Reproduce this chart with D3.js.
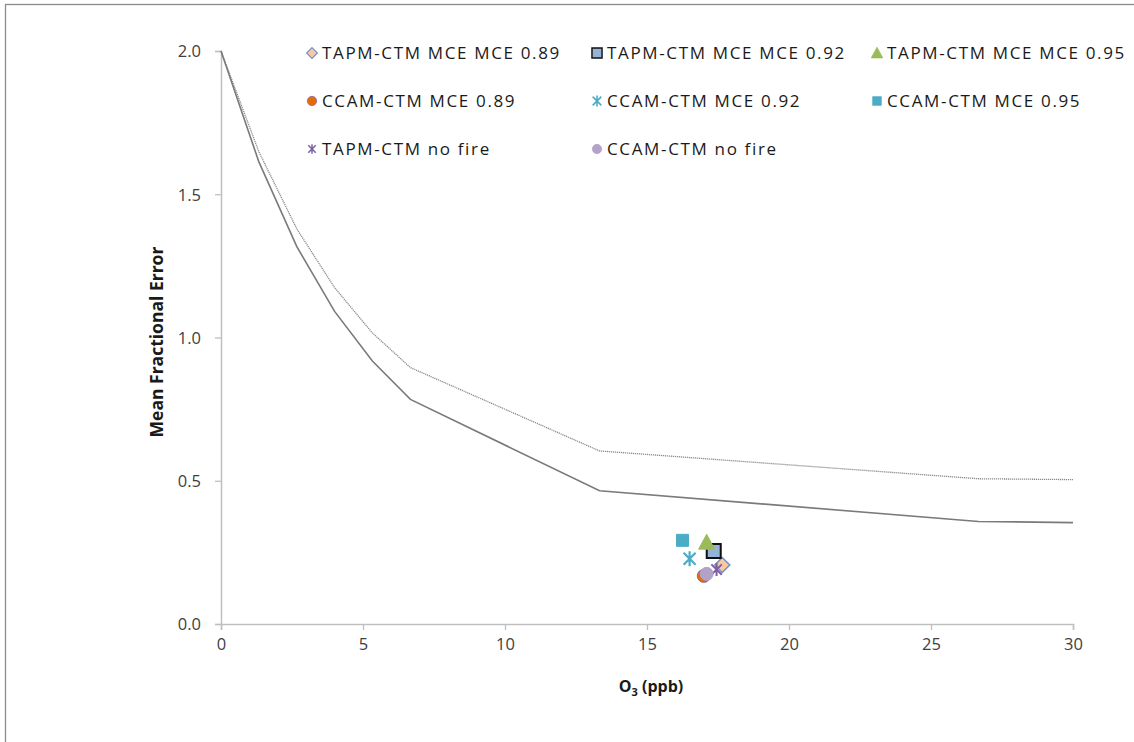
<!DOCTYPE html>
<html>
<head>
<meta charset="utf-8">
<script src="https://cdn.jsdelivr.net/npm/d3@7"></script>
<style>
  html, body { margin: 0; padding: 0; background: #fff; }
  svg { display: block; font-family: "Open Sans", "Noto Sans", sans-serif; }
</style>
</head>
<body>
<svg id="chart" width="1134" height="742"></svg>
<script>
// O3 concentration breakpoints used by the two criteria curves
const curveX = [0, 1.33, 2.67, 4.0, 5.33, 6.67, 13.33, 26.67, 30];
// Mean fractional error criteria (lower = goal, upper = criterion)
const goalMFE = [2.0, 1.614, 1.317, 1.091, 0.918, 0.784, 0.465, 0.358, 0.354];
const criterionMFE = [2.0, 1.649, 1.379, 1.174, 1.016, 0.895, 0.604, 0.507, 0.504];

// Model runs: series names, O3 means and mean fractional errors
const seriesNames = [
  "TAPM-CTM MCE MCE 0.89", "TAPM-CTM MCE MCE 0.92", "TAPM-CTM MCE MCE 0.95",
  "CCAM-CTM MCE 0.89", "CCAM-CTM MCE 0.92", "CCAM-CTM MCE 0.95",
  "TAPM-CTM no fire", "CCAM-CTM no fire"
];
const seriesO3 = [17.65, 17.35, 17.1, 17.0, 16.5, 16.25, 17.45, 17.1];
const seriesMFE = [0.206, 0.255, 0.285, 0.168, 0.228, 0.292, 0.19, 0.175];

const xTicks = [0, 5, 10, 15, 20, 25, 30];
const yTicks = [0, 0.5, 1.0, 1.5, 2.0];

// Marker styling per series
const markerStyle = [
  { shape: "diamond", fill: "#fac89e", stroke: "#6f8fcb", sw: 1.5, size: 15 },
  { shape: "square", fill: "#95b3d7", stroke: "#111111", sw: 2, size: 14 },
  { shape: "triangle", fill: "#9bbb59", stroke: "#9bbb59", sw: 1, size: 16 },
  { shape: "circle", fill: "#e46c0a", stroke: "#8064a2", sw: 1, size: 13 },
  { shape: "star", fill: "none", stroke: "#4bacc6", sw: 2.2, size: 15 },
  { shape: "square", fill: "#4bacc6", stroke: "#4bacc6", sw: 1, size: 12 },
  { shape: "star", fill: "none", stroke: "#7a5fa3", sw: 2, size: 13 },
  { shape: "circle", fill: "#b3a2c7", stroke: "#b3a2c7", sw: 1, size: 13 }
];

const svg = d3.select("#chart");
const W = 1134, H = 742;
const plot = { left: 221, right: 1073, top: 51, bottom: 624 };

// chart frame
svg.append("rect")
  .attr("x", 5.5).attr("y", 4.5)
  .attr("width", W + 10).attr("height", H + 10)
  .attr("fill", "#fff").attr("stroke", "#8c8c8c").attr("stroke-width", 1.3);

const x = d3.scaleLinear().domain([0, 30]).range([plot.left, plot.right]);
const y = d3.scaleLinear().domain([0, 2]).range([plot.bottom, plot.top]);

// axes
const axisColor = "#bfbfbf";
const gx = svg.append("g")
  .attr("transform", `translate(0,${plot.bottom})`)
  .call(d3.axisBottom(x).tickValues(xTicks).tickSize(6).tickPadding(8).tickFormat(d3.format("d")));
const gy = svg.append("g")
  .attr("transform", `translate(${plot.left},0)`)
  .call(d3.axisLeft(y).tickValues(yTicks).tickSize(6).tickPadding(14).tickFormat(d3.format(".1f")));
[gx, gy].forEach(g => {
  g.select(".domain").attr("stroke", axisColor).attr("stroke-width", 1.5);
  g.selectAll(".tick line").attr("stroke", axisColor).attr("stroke-width", 1.3);
  g.selectAll(".tick text").attr("fill", "#404040").attr("font-size", 16.5)
    .attr("font-family", "'Open Sans', sans-serif");
});
gy.selectAll(".tick text").attr("dy", "0.35em");

// criteria curves
const line = d3.line().x((d, i) => x(curveX[i])).y(d => y(d));
svg.append("path").datum(criterionMFE)
  .attr("d", line).attr("fill", "none")
  .attr("stroke", "#8a8a8a").attr("stroke-width", 1.3)
  .attr("stroke-dasharray", "1.2,0.8");
svg.append("path").datum(goalMFE)
  .attr("d", line).attr("fill", "none")
  .attr("stroke", "#7a7a7a").attr("stroke-width", 1.6);

// marker path generator
function markerPath(shape, s) {
  const h = s / 2;
  switch (shape) {
    case "diamond": return `M0,${-h}L${h},0L0,${h}L${-h},0Z`;
    case "square": return `M${-h},${-h}H${h}V${h}H${-h}Z`;
    case "triangle": return `M0,${-h}L${h},${h * 0.85}L${-h},${h * 0.85}Z`;
    case "circle": return d3.symbol(d3.symbolCircle, Math.PI * h * h)();
    case "star": {
      const d = h * 0.8;
      return `M0,${-h}V${h}M${-d},${-d}L${d},${d}M${d},${-d}L${-d},${d}`;
    }
  }
}

function drawMarker(g, st, scale) {
  g.append("path")
    .attr("d", markerPath(st.shape, st.size * scale))
    .attr("fill", st.fill)
    .attr("stroke", st.stroke)
    .attr("stroke-width", st.sw * Math.max(scale, 0.7));
}

// data points
const pts = svg.append("g");
seriesNames.forEach((name, i) => {
  const g = pts.append("g").attr("transform", `translate(${x(seriesO3[i])},${y(seriesMFE[i])})`);
  drawMarker(g, markerStyle[i], 1);
});

// legend
const legCols = [312, 597, 877];
const legRows = [53, 101, 149];
const leg = svg.append("g");
seriesNames.forEach((name, i) => {
  const cx = legCols[i % 3], cy = legRows[Math.floor(i / 3)];
  const g = leg.append("g").attr("transform", `translate(${cx},${cy})`);
  drawMarker(g, markerStyle[i], 0.72);
  g.append("text").attr("x", 10).attr("y", 0).attr("dy", "0.36em")
    .attr("font-size", 17).attr("letter-spacing", 1.65)
    .attr("fill", "#1a1a1a").text(name);
});

// axis titles
const xt = svg.append("text")
  .attr("x", 651).attr("y", 692)
  .attr("text-anchor", "middle").attr("font-weight", "bold")
  .attr("font-size", 16).attr("fill", "#1a1a1a");
xt.append("tspan").text("O");
xt.append("tspan").attr("font-size", 11).attr("dy", 4).text("3");
xt.append("tspan").attr("dy", -4).text(" (ppb)");

svg.append("text")
  .attr("transform", `translate(163,342) rotate(-90)`)
  .attr("text-anchor", "middle").attr("font-weight", "bold")
  .attr("font-size", 17.5).attr("fill", "#1a1a1a")
  .text("Mean Fractional Error");
</script>
</body>
</html>
